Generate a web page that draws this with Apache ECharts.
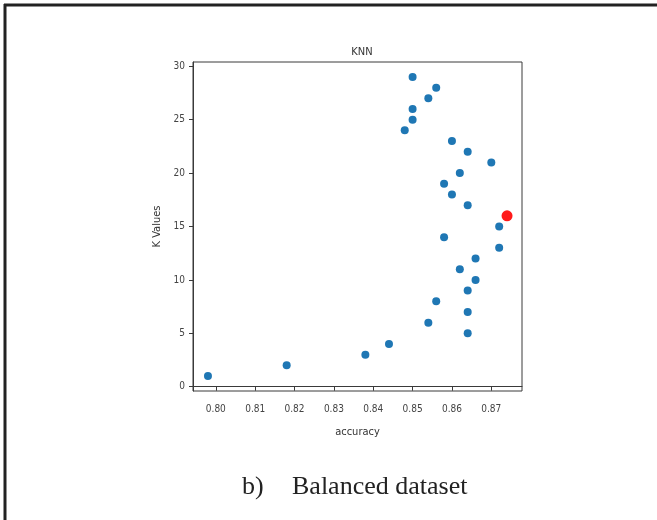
<!DOCTYPE html>
<html>
<head>
<meta charset="utf-8">
<script src="https://cdn.jsdelivr.net/npm/echarts@6/dist/echarts.min.js"></script>
<style>
  html, body { margin: 0; padding: 0; background: #fff; }
  #chart-panel { width: 657px; height: 520px; }
</style>
</head>
<body>
<div id="chart-panel"></div>
<script>
// K values tried and the accuracy each one reached
var kValues = [1, 2, 3, 4, 5, 6, 7, 8, 9, 10, 11, 12, 13, 14, 15,
  16, 17, 18, 19, 20, 21, 22, 23, 24, 25, 26, 27, 28, 29];
var accuracy = [0.798, 0.818, 0.838, 0.844, 0.864, 0.854, 0.864, 0.856, 0.864, 0.866,
  0.862, 0.866, 0.872, 0.858, 0.872, 0.874, 0.864, 0.860, 0.858, 0.862,
  0.870, 0.864, 0.860, 0.848, 0.850, 0.850, 0.854, 0.856, 0.850];
var bestK = 16; // red dot
var xTicks = [0.80, 0.81, 0.82, 0.83, 0.84, 0.85, 0.86, 0.87];
var yTicks = [0, 5, 10, 15, 20, 25, 30];

var narrow = '"Liberation Sans Narrow", "DejaVu Sans Condensed", sans-serif';
var serif = '"Liberation Serif", "DejaVu Serif", serif';

var chartPanel = echarts.init(document.getElementById('chart-panel'));

var blueData = [];
var redData = [];
for (var i = 0; i < kValues.length; i++) {
  if (kValues[i] === bestK) {
    redData.push([accuracy[i], kValues[i]]);
  } else {
    blueData.push([accuracy[i], kValues[i]]);
  }
}

var axisLineStyle = { color: '#3a3a3a', width: 1 };

var option = {
  backgroundColor: '#fff',
  animation: false,
  title: {
    text: 'KNN',
    left: 357,
    textAlign: 'center',
    top: 42,
    textStyle: { fontFamily: narrow, fontSize: 11, fontWeight: 'normal', color: '#333' }
  },
  grid: {
    left: 193,
    right: 135,
    top: 62,
    bottom: 129,
    show: true,
    borderColor: '#3a3a3a',
    borderWidth: 1
  },
  xAxis: {
    type: 'value',
    min: 0.7942,
    max: 0.8778,
    name: 'accuracy',
    nameLocation: 'middle',
    nameGap: 36,
    nameTextStyle: { fontFamily: narrow, fontSize: 11, color: '#333' },
    splitLine: { show: false },
    axisLine: { lineStyle: axisLineStyle },
    axisTick: { show: true, inside: false, length: 4, lineStyle: axisLineStyle, customValues: xTicks },
    axisLabel: {
      fontFamily: narrow, fontSize: 10, color: '#444', margin: 13,
      customValues: xTicks,
      formatter: function (v) { return v.toFixed(2); }
    }
  },
  yAxis: {
    type: 'value',
    min: -0.4,
    max: 30.4,
    name: 'K Values',
    nameLocation: 'middle',
    nameGap: 20,
    nameTextStyle: { fontFamily: narrow, fontSize: 11, color: '#333' },
    splitLine: { show: false },
    axisLine: { show: true, lineStyle: axisLineStyle },
    axisTick: { show: true, inside: false, length: 4, lineStyle: axisLineStyle, customValues: yTicks },
    axisLabel: {
      fontFamily: narrow, fontSize: 10, color: '#444', margin: 8,
      customValues: yTicks
    }
  },
  series: [
    {
      type: 'scatter',
      data: blueData,
      symbolSize: 8,
      itemStyle: { color: '#1f77b4', opacity: 1 }
    },
    {
      type: 'scatter',
      data: redData,
      symbolSize: 11,
      itemStyle: { color: '#ff1a1a', opacity: 1 }
    }
  ],
  graphic: [
    // figure frame, only left and top edges show
    { type: 'line', shape: { x1: 5, y1: 4, x2: 5, y2: 520 }, style: { stroke: '#222', lineWidth: 3 } },
    { type: 'line', shape: { x1: 4, y1: 5, x2: 657, y2: 5 }, style: { stroke: '#222', lineWidth: 3 } },
    {
      type: 'text', left: 242, top: 474,
      style: { text: 'b)', fontFamily: serif, fontSize: 26, fill: '#222' }
    },
    {
      type: 'text', left: 292, top: 474,
      style: { text: 'Balanced dataset', fontFamily: serif, fontSize: 26, fill: '#222' }
    }
  ]
};

chartPanel.setOption(option);
</script>
</body>
</html>
